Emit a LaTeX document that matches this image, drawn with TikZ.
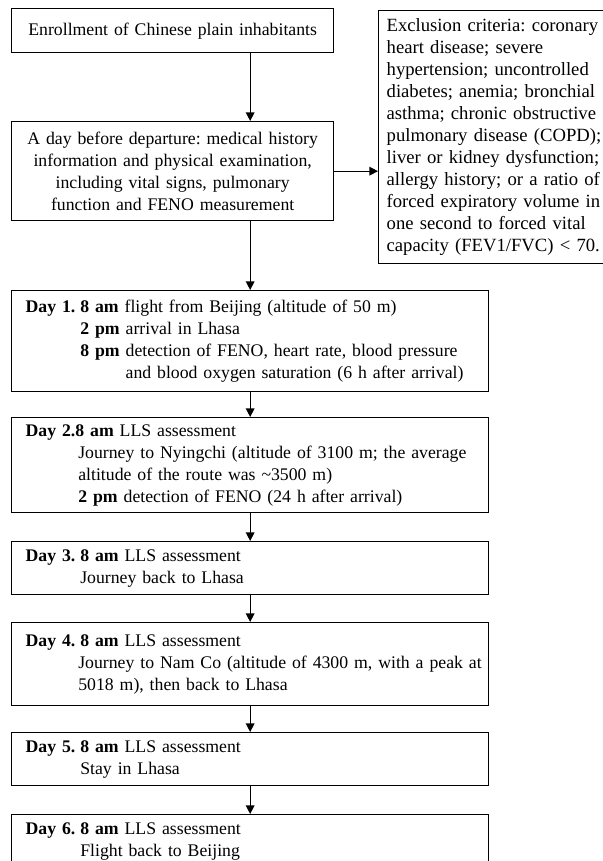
\documentclass[tikz,border=0pt]{standalone}
\usepackage{fontspec}
\setmainfont{Liberation Serif}
\usetikzlibrary{arrows.meta}

\tikzset{
    flowbox/.style={draw, rectangle, line width=1pt, anchor=north west, inner ysep=0pt},
    centerbox/.style={flowbox, inner xsep=4pt, minimum width=241.5pt, text width=233.5pt, align=center},
    daybox/.style={flowbox, inner xsep=10.5pt, minimum width=357.75pt, text width=336.75pt, align=left},
    flowarrow/.style={line width=1pt, -{Triangle[width=6.5pt, length=6.5pt]}},
}
\newcommand{\dayind}{\hspace*{41pt}}
\newcommand{\dayhead}[1]{\makebox[41pt][l]{\textbf{Day #1.}}}

\begin{document}
\frenchspacing
\begin{tikzpicture}[x=0.75pt, y=-0.75pt, font=\fontsize{13.3}{16.5}\selectfont]
    \clip (0,0) rectangle (603,861);

    % top part
    \node[centerbox, minimum height=33pt] (enroll) at (11,8) {Enrollment of Chinese plain inhabitants};
    \node[centerbox, minimum height=74.25pt] (prep) at (11,121)
        {A day before departure: medical history\\ information and physical examination,\\ including vital signs, pulmonary\\ function and FENO measurement};
    \node[flowbox, inner xsep=6pt, minimum width=212pt, text width=200pt, minimum height=189.75pt, align=left,
          font=\fontsize{14}{16.5}\selectfont] (excl) at (378,10)
        {Exclusion criteria: coronary\\ heart disease; severe\\ hypertension; uncontrolled\\ diabetes; anemia; bronchial\\ asthma; chronic obstructive\\ pulmonary disease (COPD);\\ liver or kidney dysfunction;\\ allergy history; or a ratio of\\ forced expiratory volume in\\ one second to forced vital\\ capacity (FEV1/FVC) < 70.};

    % days
    \node[daybox, minimum height=75.75pt] (day1) at (11,290)
        {\dayhead{1}\textbf{8 am} flight from Beijing (altitude of 50 m)\\
         \dayind\textbf{2 pm} arrival in Lhasa\\
         \dayind\textbf{8 pm} detection of FENO, heart rate, blood pressure\\
         \hspace*{75pt}and blood oxygen saturation (6 h after arrival)};
    \node[daybox, minimum height=71.25pt] (day2) at (11,417)
        {\textbf{Day 2.8 am} LLS assessment\\
         \hspace*{39.5pt}\makebox[294pt][s]{Journey to Nyingchi (altitude of 3100 m; the average}\\
         \hspace*{39.5pt}altitude of the route was \textasciitilde3500 m)\\
         \hspace*{39.5pt}\textbf{2 pm} detection of FENO (24 h after arrival)};
    \node[daybox, minimum height=39.75pt] (day3) at (11,541)
        {\dayhead{3}\textbf{8 am} LLS assessment\\
         \dayind Journey back to Lhasa};
    \node[daybox, minimum height=62.25pt] (day4) at (11,622)
        {\dayhead{4}\textbf{8 am} LLS assessment\\
         \hspace*{39.5pt}\makebox[294pt][s]{Journey to Nam Co (altitude of 4300 m, with a peak at}\\
         \hspace*{39.5pt}5018 m), then back to Lhasa};
    \node[daybox, minimum height=39.75pt] (day5) at (11,732)
        {\dayhead{5}\textbf{8 am} LLS assessment\\
         \dayind Stay in Lhasa};
    \node[daybox, minimum height=39.75pt] (day6) at (11,814)
        {\dayhead{6}\textbf{8 am} LLS assessment\\
         \dayind Flight back to Beijing};

    % arrows
    \draw[flowarrow] (enroll.south -| day1.north) -- (prep.north -| day1.north);
    \draw[flowarrow] (prep.east) -- (prep.east -| excl.west);
    \draw[flowarrow] (prep.south -| day1.north) -- (day1.north);
    \draw[flowarrow] (day1.south) -- (day2.north);
    \draw[flowarrow] (day2.south) -- (day3.north);
    \draw[flowarrow] (day3.south) -- (day4.north);
    \draw[flowarrow] (day4.south) -- (day5.north);
    \draw[flowarrow] (day5.south) -- (day6.north);
\end{tikzpicture}
\end{document}
